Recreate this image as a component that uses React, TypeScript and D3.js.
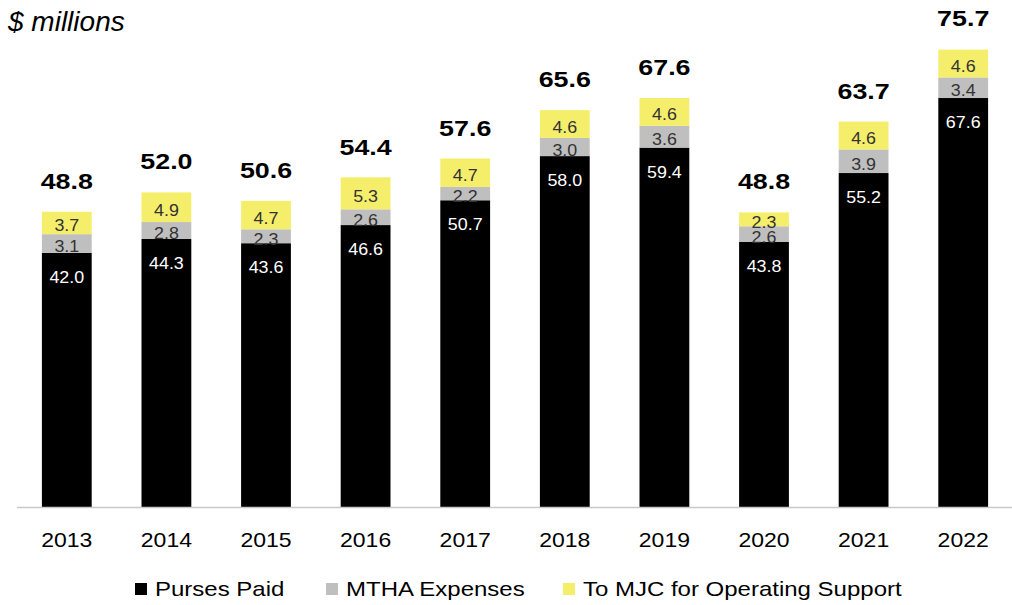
import React from "react";
import * as d3 from "d3";

const years = ["2013", "2014", "2015", "2016", "2017", "2018", "2019", "2020", "2021", "2022"];
const pursesPaid = [42.0, 44.3, 43.6, 46.6, 50.7, 58.0, 59.4, 43.8, 55.2, 67.6];
const mthaExpenses = [3.1, 2.8, 2.3, 2.6, 2.2, 3.0, 3.6, 2.6, 3.9, 3.4];
const mjcSupport = [3.7, 4.9, 4.7, 5.3, 4.7, 4.6, 4.6, 2.3, 4.6, 4.6];
const totals = [48.8, 52.0, 50.6, 54.4, 57.6, 65.6, 67.6, 48.8, 63.7, 75.7];

const seriesNames = ["Purses Paid", "MTHA Expenses", "To MJC for Operating Support"];
const colors = ["#000000", "#bfbfbf", "#f5ee6b"];
const labelColors = ["#ffffff", "#333333", "#333333"];

const W = 1012;
const H = 605;
const font = "'Liberation Sans', Arial, sans-serif";

// text that is a little wider than the font, as in the source picture
function SText({ x, y, sx = 1, children, ...rest }: any) {
  return (
    <text transform={`translate(${x},${y}) scale(${sx},1)`} {...rest}>
      {children}
    </text>
  );
}

export default function App() {
  const x = d3.scaleBand().domain(years).range([17, 1013]).paddingInner(0.5).paddingOuter(0.25);
  const y = d3.scaleLinear().domain([0, 80]).range([507, 23]);

  const rows = years.map((yr, i) => ({
    year: yr,
    purses: pursesPaid[i],
    mtha: mthaExpenses[i],
    mjc: mjcSupport[i],
  }));
  const stack = d3.stack<any>().keys(["purses", "mtha", "mjc"])(rows);
  const values = [pursesPaid, mthaExpenses, mjcSupport];

  return (
    <svg width={W} height={H} style={{ position: "absolute", left: 0, top: 0 }} fontFamily={font}>
      <rect width={W} height={H} fill="#fff" />
      <text x={8} y={31} fontSize={28} fontStyle="italic" fill="#000">$ millions</text>

      {stack.map((s, si) =>
        s.map((d, i) => {
          const x0 = x(years[i])!;
          const top = y(d[1]);
          const bot = y(d[0]);
          const ly = si === 0 ? top + 30 : (top + bot) / 2 + 8.5;
          return (
            <g key={`${si}-${i}`}>
              <rect x={x0} y={top} width={x.bandwidth()} height={bot - top} fill={colors[si]} />
              <SText x={x0 + x.bandwidth() / 2} y={ly} sx={1.05} textAnchor="middle" fontSize={17} fill={labelColors[si]}>
                {values[si][i].toFixed(1)}
              </SText>
            </g>
          );
        })
      )}

      {years.map((yr, i) => (
        <SText key={"t" + yr} x={x(yr)! + x.bandwidth() / 2} y={y(totals[i]) - 23} sx={1.22} textAnchor="middle"
          fontSize={22} fontWeight="bold" fill="#000">
          {totals[i].toFixed(1)}
        </SText>
      ))}

      <line x1={17} x2={1013} y1={y(0) + 0.5} y2={y(0) + 0.5} stroke="#c8c8c8" strokeWidth={1.5} />

      {years.map((yr) => (
        <SText key={"x" + yr} x={x(yr)! + x.bandwidth() / 2} y={547} sx={1.15} textAnchor="middle" fontSize={20} fill="#000">
          {yr}
        </SText>
      ))}

      {seriesNames.map((name, i) => {
        const lx = [135, 326, 563][i];
        return (
          <g key={name}>
            <rect x={lx} y={583} width={12} height={12} fill={colors[i]} />
            <SText x={lx + 20} y={596} sx={1.2} fontSize={20} fill="#000">{name}</SText>
          </g>
        );
      })}
    </svg>
  );
}
